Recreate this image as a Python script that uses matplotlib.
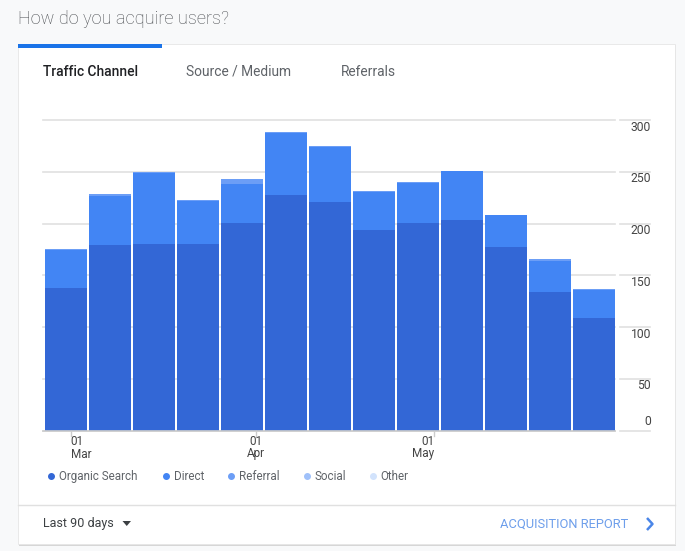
import matplotlib
matplotlib.use("Agg")
import matplotlib.pyplot as plt
from matplotlib.patches import Rectangle, Polygon
from matplotlib.lines import Line2D
import matplotlib.transforms as mtrans

# ---------------- data ----------------
channels = ["Organic Search", "Direct", "Referral", "Social", "Other"]
organic = [138, 179, 180, 180, 201, 228, 221, 194, 201, 204, 177, 134, 109]
direct = [37, 48, 69, 42, 37, 60, 53, 37, 38, 47, 31, 30, 27]
referral = [1, 2, 1, 1, 5, 1, 1, 1, 1, 0, 0, 2, 1]
social = [0, 0, 0, 0, 0, 0, 0, 0, 0, 0, 0, 0, 0]
other = [0, 0, 0, 0, 0, 0, 0, 0, 0, 0, 0, 0, 0]
y_ticks = [0, 50, 100, 150, 200, 250, 300]
x_tick_days = ["01", "01", "01"]
x_tick_months = ["Mar", "Apr", "May"]
tabs = ["Traffic Channel", "Source / Medium", "Referrals"]

# ---------------- style ----------------
W, H = 685, 551
colors = ["#3367d6", "#4285f4", "#6c9ef6", "#a0c1fa", "#d2e3fc"]
FONT = ["Roboto", "DejaVu Sans"]
plt.rcParams["font.family"] = FONT

fig = plt.figure(figsize=(W / 100, H / 100), dpi=100)
fig.patch.set_facecolor("#f8f9fa")


def fx(x):
    return x / W


def fy(y):
    return 1 - y / H


# card
fig.patches.append(Rectangle((fx(19), fy(546)), fx(657), (546 - 45) / H,
                             transform=fig.transFigure, facecolor="#d6d6d6",
                             edgecolor="none", zorder=-3))
fig.patches.append(Rectangle((fx(18), fy(544)), fx(657), (544 - 44) / H,
                             transform=fig.transFigure, facecolor="white",
                             edgecolor="#e6e6e6", linewidth=0.6, zorder=-2))
# tab indicator
fig.patches.append(Rectangle((fx(18), fy(48)), fx(144), 4 / H,
                             transform=fig.transFigure, facecolor="#1a73e8",
                             edgecolor="none", zorder=1))
# footer divider
fig.lines.append(Line2D([fx(18), fx(675)], [fy(504.5), fy(504.5)],
                        transform=fig.transFigure, color="#e0e0e0", lw=1))

# title
fig.text(fx(18.5), fy(18.5), "How do you acquire users?", fontsize=13.1,
         fontweight="light", color="#4a4d51", va="center", ha="left")

# tabs
tab_x = [43, 186, 341]
for i, (t, x) in enumerate(zip(tabs, tab_x)):
    fig.text(fx(x), fy(72), t, fontsize=9.9,
             fontweight="medium" if i == 0 else "normal",
             color="#202124" if i == 0 else "#5f6368", va="center", ha="left")

# ---------------- chart axes ----------------
y0px, y300px = 430.5, 120.3
ax = fig.add_axes([fx(43), fy(y0px), (615 - 43) / W, (y0px - y300px) / H])
ax.set_zorder(1)
ax.set_facecolor("none")
ax.set_ylim(0, 300)
slot = 44.0
ax.set_xlim((43 - 66) / slot, (615 - 66) / slot)
for s in ax.spines.values():
    s.set_visible(False)
ax.set_xticks([])
ax.set_yticks([])

# gridlines
blend = mtrans.blended_transform_factory(fig.transFigure, ax.transData)
for v in y_ticks:
    ax.axhline(v, color="#e0e0e0", lw=1.2, zorder=0, clip_on=False)
    fig.lines.append(Line2D([fx(620), fx(650)], [v, v], transform=blend,
                            color="#e0e0e0", lw=1.2))
    off = -7 if v > 0 else 9
    tr = mtrans.offset_copy(blend, fig=fig, x=0, y=off * 72 / 100, units="points")
    fig.text(fx(651), v, str(v), transform=tr, fontsize=8.7, color="#444444",
             ha="right", va="center")

# bars
xs = list(range(len(organic)))
series = [organic, direct, referral, social, other]
bottom = [0] * len(organic)
for vals, c in zip(series, colors):
    ax.bar(xs, vals, bottom=bottom, width=42 / slot, color=c, linewidth=0,
           zorder=2)
    bottom = [b + v for b, v in zip(bottom, vals)]

# x axis line
ax.axhline(0, color="#cccccc", lw=1.2, zorder=3, clip_on=False)

# x ticks
tick_px = [70.5, 255.5, 434]
aligns = ["left", "center", "right"]
for d, m, px, ha in zip(x_tick_days, x_tick_months, tick_px, aligns):
    fig.lines.append(Line2D([fx(px), fx(px)], [fy(431), fy(436)],
                            transform=fig.transFigure, color="#cccccc", lw=1))
    fig.text(fx(px), fy(441.5), d, fontsize=8.5, color="#444444", ha=ha,
             va="center")
    fig.text(fx(px), fy(454), m, fontsize=8.5, color="#444444", ha=ha,
             va="center")

# legend
leg_dot = [51, 165.7, 230.7, 306.7, 372.7]
for name, c, dx in zip(channels, colors, leg_dot):
    fig.lines.append(Line2D([fx(dx)], [fy(476)], transform=fig.transFigure,
                            marker="o", markersize=4, color=c, linestyle="none"))
    fig.text(fx(dx + 8), fy(476.5), name, fontsize=8.4, color="#5f6368",
             ha="left", va="center")

# footer
fig.text(fx(43.5), fy(523), "Last 90 days", fontsize=9, color="#3c4043",
         ha="left", va="center")
fig.patches.append(Polygon([(fx(122.5), fy(521)), (fx(131), fy(521)),
                            (fx(126.75), fy(526))], closed=True,
                           transform=fig.transFigure, facecolor="#3c4043",
                           edgecolor="none"))
fig.text(fx(628.5), fy(524), "ACQUISITION REPORT", fontsize=9.3,
         color="#6d9eeb", ha="right", va="center")
fig.lines.append(Line2D([fx(647), fx(652.5), fx(647)], [fy(518), fy(524), fy(530)],
                        transform=fig.transFigure, color="#4a86e8", lw=1.8,
                        solid_capstyle="butt"))

fig.savefig("out.png", dpi=100, facecolor=fig.get_facecolor())
